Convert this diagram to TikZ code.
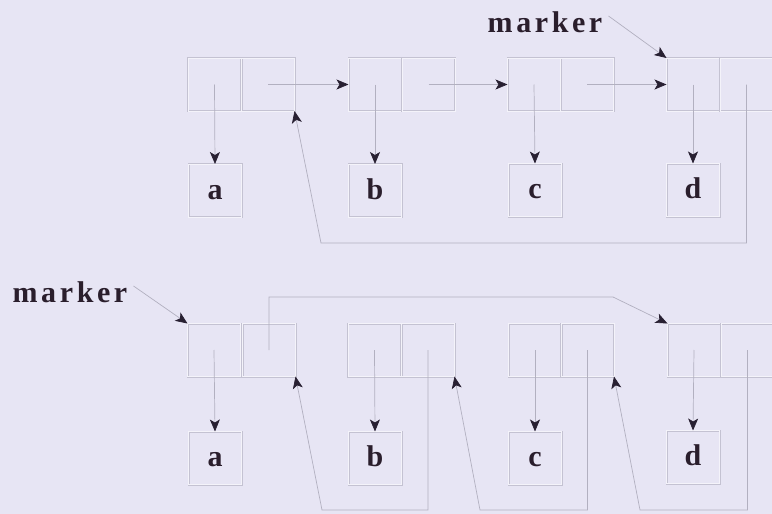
\documentclass[tikz,border=0pt]{standalone}
\usepackage{fontspec}
\setmainfont{Liberation Serif}
\usetikzlibrary{arrows.meta}
\definecolor{bg}{RGB}{231,229,244}
\definecolor{edge}{RGB}{196,194,210}
\definecolor{edgein}{RGB}{244,243,250}
\definecolor{wire}{RGB}{178,176,192}
\definecolor{tipc}{RGB}{40,32,50}
\definecolor{ink}{RGB}{42,30,44}
\tikzset{
  cell/.style={draw=edge, double=edgein, double distance=1pt, line width=0.5pt,
    minimum width=53pt, minimum height=53pt, inner sep=0pt, outer sep=0pt},
  valbox/.style={cell, font=\fontsize{30}{30}\selectfont\bfseries, text=ink,
    text height=17pt, text depth=0pt},
  lbl/.style={font=\fontsize{30}{30}\selectfont\bfseries\addfontfeature{LetterSpace=12},
    text=ink, inner sep=0pt},
  ptr/.style={draw=wire, line width=0.7pt, -{Stealth[length=12pt,width=10pt,inset=3pt,color=tipc]}},
}
\begin{document}
\begin{tikzpicture}[x=1pt,y=-1pt]
\fill[bg] (0,0) rectangle (772,514);
\useasboundingbox (0,0) rectangle (772,514);

% top list: circular singly linked
\node[cell] (t1l) at (214.5,84.5) {};
\node[cell] (t1r) at (268,84.5) {};
\node[cell] (t2l) at (375,84.5) {};
\node[cell] (t2r) at (428.5,84.5) {};
\node[cell] (t3l) at (534,84.5) {};
\node[cell] (t3r) at (587,84.5) {};
\node[cell] (t4l) at (693,84.5) {};
\node[cell] (t4r) at (746.5,84.5) {};
\node[valbox] (ta) at (215,190.5) {a};
\node[valbox] (tb) at (375,190.5) {b};
\node[valbox] (tc) at (535,190) {c};
\node[valbox] (td) at (693,190) {d};
\node[lbl] (mk1) at (545,22) {marker};
\coordinate (tloop) at (321,243);

\draw[ptr] (t1r.center) -- (t2l.west);
\draw[ptr] (t2r.center) -- (t3l.west);
\draw[ptr] (t3r.center) -- (t4l.west);
\draw[ptr] (t1l.center) -- (ta.north);
\draw[ptr] (t2l.center) -- (tb.north);
\draw[ptr] (t3l.center) -- (tc.north);
\draw[ptr] (t4l.center) -- (td.north);
\draw[ptr] (t4r.center) |- (tloop) -- (t1r.south east);
\draw[ptr] ([xshift=6pt,yshift=6pt]mk1.east) -- (t4l.north west);

% bottom list: backward links
\node[cell] (b1l) at (214,350) {};
\node[cell] (b1r) at (269,350) {};
\node[cell] (b2l) at (374.5,350) {};
\node[cell] (b2r) at (428,350) {};
\node[cell] (b3l) at (535,350) {};
\node[cell] (b3r) at (587.5,350) {};
\node[cell] (b4l) at (694,350) {};
\node[cell] (b4r) at (747.5,350) {};
\node[valbox] (ba) at (215,458) {a};
\node[valbox] (bb) at (375,458) {b};
\node[valbox] (bc) at (535,458) {c};
\node[valbox] (bd) at (693,457) {d};
\node[lbl] (mk2) at (70,292) {marker};
\coordinate (bjoin) at (613,297);
\coordinate (bl1) at (322,510);
\coordinate (bl2) at (480,510);
\coordinate (bl3) at (640,510);

\draw[ptr] (b1l.center) -- (ba.north);
\draw[ptr] (b2l.center) -- (bb.north);
\draw[ptr] (b3l.center) -- (bc.north);
\draw[ptr] (b4l.center) -- (bd.north);
\draw[ptr] (b1r.center) |- (bjoin) -- (b4l.north west);
\draw[ptr] (b2r.center) |- (bl1) -- (b1r.south east);
\draw[ptr] (b3r.center) |- (bl2) -- (b2r.south east);
\draw[ptr] (b4r.center) |- (bl3) -- (b3r.south east);
\draw[ptr] ([xshift=6pt,yshift=6pt]mk2.east) -- (b1l.north west);
\end{tikzpicture}
\end{document}
